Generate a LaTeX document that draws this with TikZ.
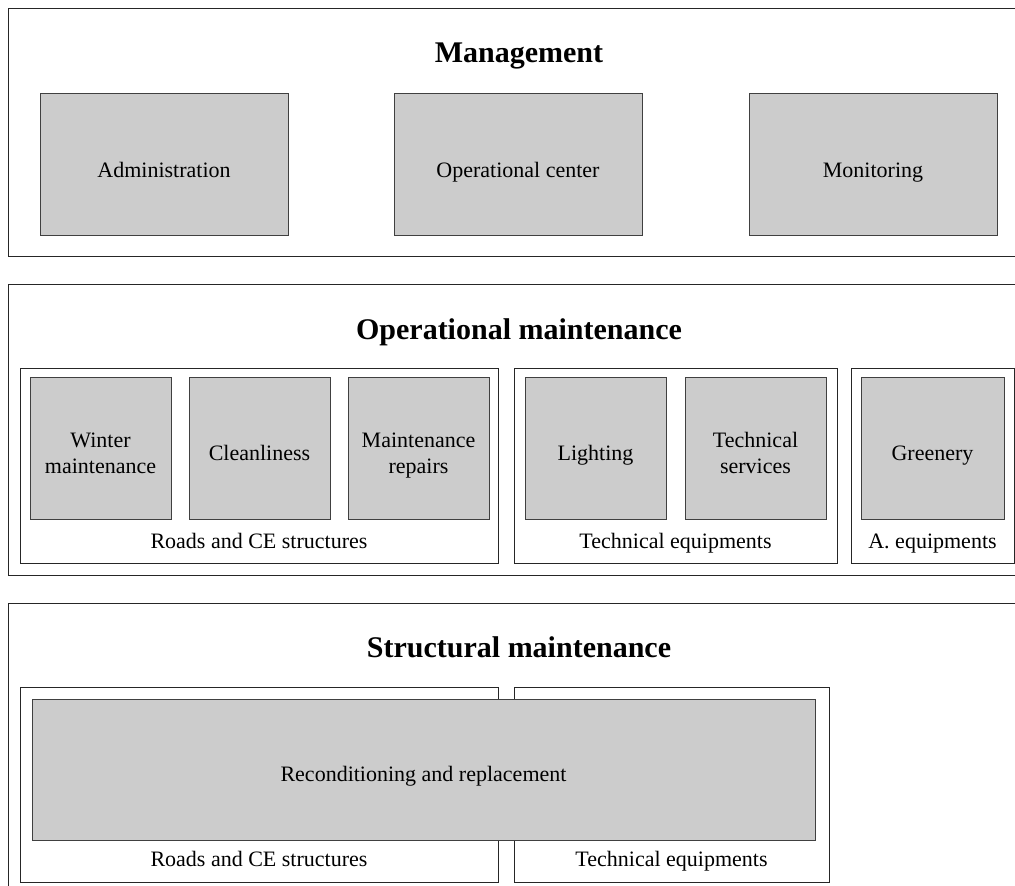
\documentclass[tikz,border=0pt]{standalone}
\usepackage{fontspec}
\setmainfont{Liberation Serif}
\begin{document}
\begin{tikzpicture}[x=1pt,y=-1pt,
  outerbox/.style={draw=black!85,line width=1pt,fill=white,minimum width=1022pt,inner sep=0pt},
  groupbox/.style={draw=black!85,line width=1pt,fill=white,minimum height=195pt,inner sep=0pt},
  cell/.style={draw=black!75,line width=1pt,fill=black!20,inner sep=0pt},
  cellsq/.style={cell,minimum width=141pt,minimum height=142pt},
  celltext/.style={font=\fontsize{22}{26}\selectfont,inner sep=0pt,anchor=base},
  title/.style={font=\fontsize{30}{34}\selectfont\bfseries,inner sep=0pt,anchor=base},
  caption/.style={font=\fontsize{22}{26}\selectfont,inner sep=0pt,anchor=base}]
\useasboundingbox (0,0) rectangle (1015,886);
\begin{scope}
\clip (0,0) rectangle (1015,886);
% Management
\node[outerbox,minimum height=248pt] (mgmt) at (519,132) {};
\node[title] (mgmtT) at (519,62.5) {Management};
\node[cell,minimum width=248pt,minimum height=142pt] (admin) at (164,164) {};
\node[cell,minimum width=248pt,minimum height=142pt] (opc) at (518,164) {};
\node[cell,minimum width=248pt,minimum height=142pt] (mon) at (873,164) {};
\node[celltext] (adminT) at ([yshift=-13pt]admin.center) {Administration};
\node[celltext] (opcT) at ([yshift=-13pt]opc.center) {Operational center};
\node[celltext] (monT) at ([yshift=-13pt]mon.center) {Monitoring};
% Operational maintenance
\node[outerbox,minimum height=291pt] (opm) at (519,429.5) {};
\node[title] (opmT) at (519,339.5) {Operational maintenance};
\node[groupbox,minimum width=478pt] (g1) at (259,465.5) {};
\node[groupbox,minimum width=323pt] (g2) at (675.5,465.5) {};
\node[groupbox,minimum width=163pt] (g3) at (932.5,465.5) {};
\node[cellsq] (winter) at (100.5,448) {};
\node[cellsq] (clean) at (259.5,448) {};
\node[cellsq] (mrep) at (418.5,448) {};
\node[cellsq] (light) at (595.5,448) {};
\node[cellsq] (tserv) at (755.5,448) {};
\node[cellsq,minimum width=143pt] (green) at (932.5,448) {};
\node[celltext] (winterA) at ([yshift=1pt]winter.center) {Winter};
\node[celltext] (winterB) at ([yshift=-25.5pt]winter.center) {maintenance};
\node[celltext] (cleanT) at ([yshift=-12.5pt]clean.center) {Cleanliness};
\node[celltext] (mrepA) at ([yshift=1pt]mrep.center) {Maintenance};
\node[celltext] (mrepB) at ([yshift=-25.5pt]mrep.center) {repairs};
\node[celltext] (lightT) at ([yshift=-12.5pt]light.center) {Lighting};
\node[celltext] (tservA) at ([yshift=1pt]tserv.center) {Technical};
\node[celltext] (tservB) at ([yshift=-25.5pt]tserv.center) {services};
\node[celltext] (greenT) at ([yshift=-12.5pt]green.center) {Greenery};
\node[caption] (c1) at (259,548) {Roads and CE structures};
\node[caption] (c2) at (675.5,548) {Technical equipments};
\node[caption] (c3) at (932.5,548) {A. equipments};
% Structural maintenance
\node[outerbox,minimum height=300pt] (stm) at (519,753) {};
\node[title] (stmT) at (519,657.5) {Structural maintenance};
\node[groupbox,minimum width=478pt] (s1) at (259,784.5) {};
\node[groupbox,minimum width=315pt] (s2) at (671.5,784.5) {};
\node[cell,minimum width=783pt,minimum height=141pt] (recond) at (423.5,769.5) {};
\node[celltext] (recondT) at ([yshift=-12pt]recond.center) {Reconditioning and replacement};
\node[caption] (sc1) at (259,866) {Roads and CE structures};
\node[caption] (sc2) at (671.5,866) {Technical equipments};
\end{scope}
\end{tikzpicture}
\end{document}
